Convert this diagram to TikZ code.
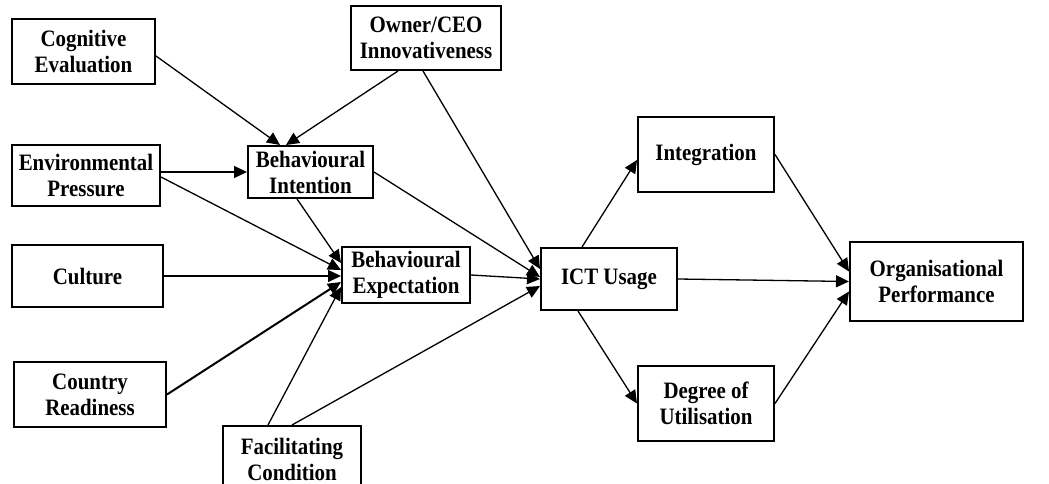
\documentclass[tikz,border=0pt]{standalone}
\usepackage{fontspec}
\setmainfont{Liberation Serif}[FakeStretch=0.89]
\usetikzlibrary{arrows.meta}
\begin{document}
\begin{tikzpicture}[x=1pt,y=-1pt,
  box/.style={draw, line width=2pt, inner sep=0pt, align=center,
    font=\fontsize{23.5}{26}\selectfont\bfseries},
  link/.style={line width=1.3pt, -{Triangle[length=13pt,width=12pt]}}]
\clip (0,0) rectangle (1049,484);
\fill[white] (0,0) rectangle (1049,484);

% factor boxes
\node[box, minimum width=143pt, minimum height=65pt] (cog) at (83.5,51.5) {Cognitive\\Evaluation};
\node[box, minimum width=148pt, minimum height=61pt] (env) at (86,175.5) {Environmental\\Pressure};
\node[box, minimum width=151pt, minimum height=62pt] (cul) at (87.5,276) {Culture};
\node[box, minimum width=152pt, minimum height=65pt] (cr) at (90,394.5) {Country\\Readiness};
\node[box, minimum width=150pt, minimum height=64pt] (own) at (426,38) {Owner/CEO\\Innovativeness};
\node[box, minimum width=138pt, minimum height=66pt] (fc) at (292,459) {Facilitating\\Condition};
\node[box, minimum width=125pt, minimum height=52pt] (bi) at (310.5,172) {Behavioural\\Intention};
\node[box, minimum width=128pt, minimum height=56pt] (be) at (406,275) {Behavioural\\Expectation};
\node[box, minimum width=136pt, minimum height=62pt] (ict) at (609,279) {ICT Usage};
\node[box, minimum width=136pt, minimum height=75pt] (int) at (706,154.5) {Integration};
\node[box, minimum width=136pt, minimum height=75pt] (dou) at (706,403.5) {Degree of\\Utilisation};
\node[box, minimum width=173pt, minimum height=79pt] (op) at (936.5,281.5) {Organisational\\Performance};

% into Behavioural Intention
\draw[link] ([yshift=-4.5pt]cog.east) -- ([xshift=-30.5pt]bi.north);
\draw[link] ([xshift=-28pt]own.south) -- ([xshift=-24.5pt]bi.north);
\draw[link] (env.east |- bi.west) -- (bi.west);

% into Behavioural Expectation
\draw[link] ([yshift=-1.5pt]env.east) -- ([yshift=5pt]be.west);
\draw[link] ([xshift=-13.5pt]bi.south) -- ([yshift=12pt]be.west);
\draw[link] (cul.east) -- (cul.east -| be.west);
\draw[link, line width=2pt] (cr.east) -- ([yshift=-7pt]be.west);
\draw[link] ([xshift=-24pt]fc.north) -- ([yshift=-12pt]be.west);

% into ICT Usage
\draw[link] ([xshift=-3pt]own.south) -- ([yshift=10pt]ict.west);
\draw[link] (bi.east) -- ([yshift=2pt]ict.west);
\draw[link] (be.east) -- (ict.west);
\draw[link] (fc.north) -- ([yshift=-7pt]ict.west);

% outcomes of ICT Usage
\draw[link] ([xshift=-27pt]ict.north) -- ([yshift=-5.5pt]int.west);
\draw[link] ([xshift=-31pt]ict.south) -- (dou.west);
\draw[link] (ict.east) -- (op.west);
\draw[link] (int.east) -- ([yshift=10pt]op.west);
\draw[link] (dou.east) -- ([yshift=-10pt]op.west);
\end{tikzpicture}
\end{document}
